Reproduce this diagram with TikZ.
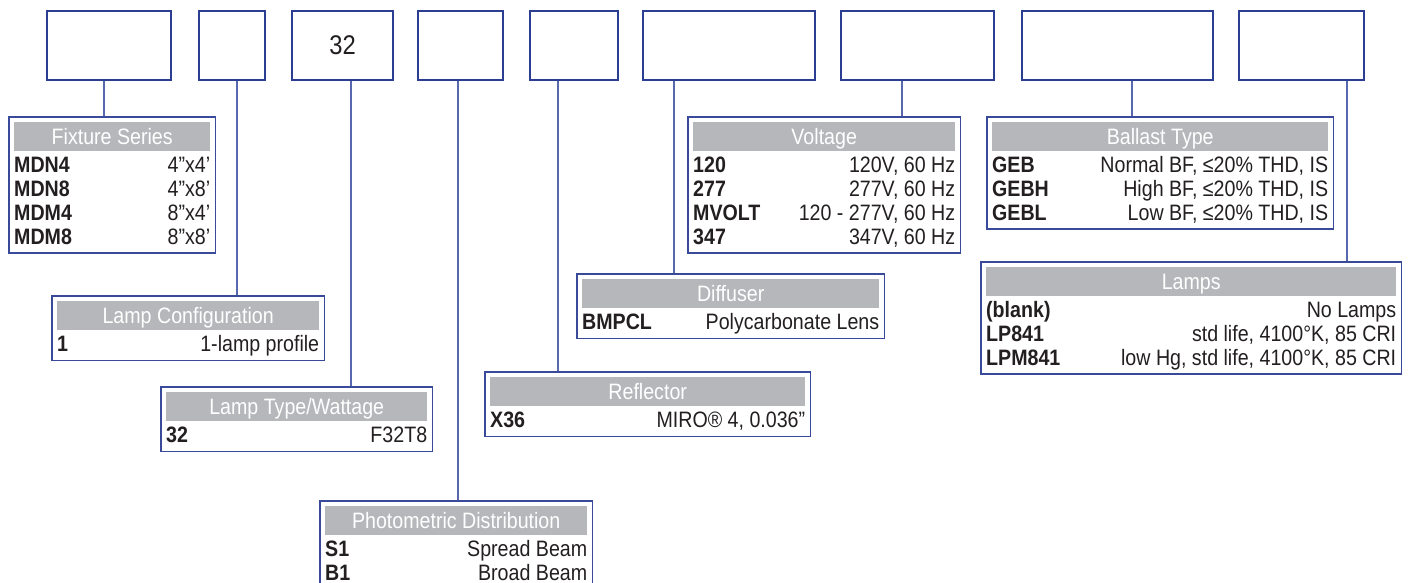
\documentclass[tikz,border=0pt]{standalone}
\usepackage{fontspec}
\setmainfont{Liberation Sans}[FakeStretch=0.88]
\usepackage{tikz}
\usetikzlibrary{positioning,fit}
\definecolor{codeblue}{RGB}{44,62,145}
\definecolor{frameblue}{RGB}{58,74,155}
\definecolor{linkblue}{RGB}{88,104,175}
\definecolor{headgray}{RGB}{181,183,186}
\definecolor{inkgray}{RGB}{35,31,32}
\newcommand{\tabline}[3]{\makebox[#1][s]{\textbf{#2}\hfill #3}}

\begin{document}
\begin{tikzpicture}[x=1pt,y=-1pt,
  codebox/.style={draw=codeblue,line width=2.6pt,minimum height=69pt,inner sep=0pt,
    text=inkgray,font=\fontsize{27pt}{30pt}\selectfont},
  link/.style={draw=linkblue,line width=1.3pt},
  tabhead/.style={fill=headgray,text=white,anchor=north west,minimum height=29pt,
    inner sep=0pt,text height=16.5pt,text depth=1.5pt,font=\fontsize{22.3pt}{24pt}\selectfont},
  tabrow/.style={inner sep=0pt,minimum height=23.5pt,text height=16pt,text depth=0pt,
    text=inkgray,font=\fontsize{22.3pt}{24pt}\selectfont},
  tabframe/.style={draw=frameblue,line width=1.3pt,inner sep=5pt}]
  \clip (0,0) rectangle (1408,583);
  \fill[white] (0,0) rectangle (1408,583);

  % code boxes
  \node[codebox,minimum width=124pt] (c1) at (109,45.5) {};
  \node[codebox,minimum width=66pt] (c2) at (232,45.5) {};
  \node[codebox,minimum width=101pt] (c3) at (342.5,45.5) {32};
  \node[codebox,minimum width=85pt] (c4) at (460.5,45.5) {};
  \node[codebox,minimum width=88pt] (c5) at (574,45.5) {};
  \node[codebox,minimum width=172pt] (c6) at (729,45.5) {};
  \node[codebox,minimum width=153pt] (c7) at (917.5,45.5) {};
  \node[codebox,minimum width=191pt] (c8) at (1117.5,45.5) {};
  \node[codebox,minimum width=125pt] (c9) at (1301.5,45.5) {};

  % Fixture Series
  \node[tabhead,minimum width=196pt] (hfs) at (14,122) {Fixture Series};
  \node[tabrow,below=1pt of hfs] (fs1) {\tabline{196pt}{MDN4}{4”x4’}};
  \node[tabrow,below=0pt of fs1] (fs2) {\tabline{196pt}{MDN8}{4”x8’}};
  \node[tabrow,below=0pt of fs2] (fs3) {\tabline{196pt}{MDM4}{8”x4’}};
  \node[tabrow,below=0pt of fs3] (fs4) {\tabline{196pt}{MDM8}{8”x8’}};
  \node[tabframe,fit=(hfs)(fs4)] (tfs) {};

  % Lamp Configuration
  \node[tabhead,minimum width=262pt] (hlc) at (57,301) {Lamp Configuration};
  \node[tabrow,below=1pt of hlc] (lc1) {\tabline{262pt}{1}{1-lamp profile}};
  \node[tabframe,fit=(hlc)(lc1)] (tlc) {};

  % Lamp Type/Wattage
  \node[tabhead,minimum width=261pt] (hlt) at (166,392) {Lamp Type/Wattage};
  \node[tabrow,below=1pt of hlt] (lt1) {\tabline{261pt}{32}{F32T8}};
  \node[tabframe,fit=(hlt)(lt1)] (tlt) {};

  % Photometric Distribution (runs past the lower edge)
  \node[tabhead,minimum width=262pt] (hpd) at (325,506) {Photometric Distribution};
  \node[tabrow,below=1pt of hpd] (pd1) {\tabline{262pt}{S1}{Spread Beam}};
  \node[tabrow,minimum height=0pt,below=3.75pt of pd1] (pd2) {\tabline{262pt}{B1}{Broad Beam}};
  \node[tabframe,fit=(hpd)(pd2)] (tpd) {};

  % Reflector
  \node[tabhead,minimum width=315pt] (hre) at (490,377) {Reflector};
  \node[tabrow,below=1pt of hre] (re1) {\tabline{315pt}{X36}{MIRO® 4, 0.036”}};
  \node[tabframe,fit=(hre)(re1)] (tre) {};

  % Diffuser
  \node[tabhead,minimum width=297pt] (hdf) at (582,279) {Diffuser};
  \node[tabrow,below=1pt of hdf] (df1) {\tabline{297pt}{BMPCL}{Polycarbonate Lens}};
  \node[tabframe,fit=(hdf)(df1)] (tdf) {};

  % Voltage
  \node[tabhead,minimum width=262pt] (hvo) at (693,122) {Voltage};
  \node[tabrow,below=1pt of hvo] (vo1) {\tabline{262pt}{120}{120V, 60 Hz}};
  \node[tabrow,below=0pt of vo1] (vo2) {\tabline{262pt}{277}{277V, 60 Hz}};
  \node[tabrow,below=0pt of vo2] (vo3) {\tabline{262pt}{MVOLT}{120 - 277V, 60 Hz}};
  \node[tabrow,below=0pt of vo3] (vo4) {\tabline{262pt}{347}{347V, 60 Hz}};
  \node[tabframe,fit=(hvo)(vo4)] (tvo) {};

  % Ballast Type
  \node[tabhead,minimum width=336pt] (hbt) at (992,122) {Ballast Type};
  \node[tabrow,below=1pt of hbt] (bt1) {\tabline{336pt}{GEB}{Normal BF, ≤20\% THD, IS}};
  \node[tabrow,below=0pt of bt1] (bt2) {\tabline{336pt}{GEBH}{High BF, ≤20\% THD, IS}};
  \node[tabrow,below=0pt of bt2] (bt3) {\tabline{336pt}{GEBL}{Low BF, ≤20\% THD, IS}};
  \node[tabframe,fit=(hbt)(bt3)] (tbt) {};

  % Lamps
  \node[tabhead,minimum width=410pt] (hlm) at (986,267) {Lamps};
  \node[tabrow,below=1pt of hlm] (lm1) {\tabline{410pt}{(blank)}{No Lamps}};
  \node[tabrow,below=0pt of lm1] (lm2) {\tabline{410pt}{LP841}{std life, 4100°K, 85 CRI}};
  \node[tabrow,below=0pt of lm2] (lm3) {\tabline{410pt}{LPM841}{low Hg, std life, 4100°K, 85 CRI}};
  \node[tabframe,fit=(hlm)(lm3)] (tlm) {};

  % leader lines
  \draw[link] ([xshift=-5pt]c1.south) -- ([xshift=-5pt]c1.south |- tfs.north);
  \draw[link] ([xshift=5pt]c2.south) -- ([xshift=5pt]c2.south |- tlc.north);
  \draw[link] ([xshift=8.5pt]c3.south) -- ([xshift=8.5pt]c3.south |- tlt.north);
  \draw[link] ([xshift=-2.5pt]c4.south) -- ([xshift=-2.5pt]c4.south |- tpd.north);
  \draw[link] ([xshift=-16pt]c5.south) -- ([xshift=-16pt]c5.south |- tre.north);
  \draw[link] ([xshift=-55pt]c6.south) -- ([xshift=-55pt]c6.south |- tdf.north);
  \draw[link] ([xshift=-15.5pt]c7.south) -- ([xshift=-15.5pt]c7.south |- tvo.north);
  \draw[link] ([xshift=14.5pt]c8.south) -- ([xshift=14.5pt]c8.south |- tbt.north);
  \draw[link] ([xshift=45.5pt]c9.south) -- ([xshift=45.5pt]c9.south |- tlm.north);
\end{tikzpicture}
\end{document}
